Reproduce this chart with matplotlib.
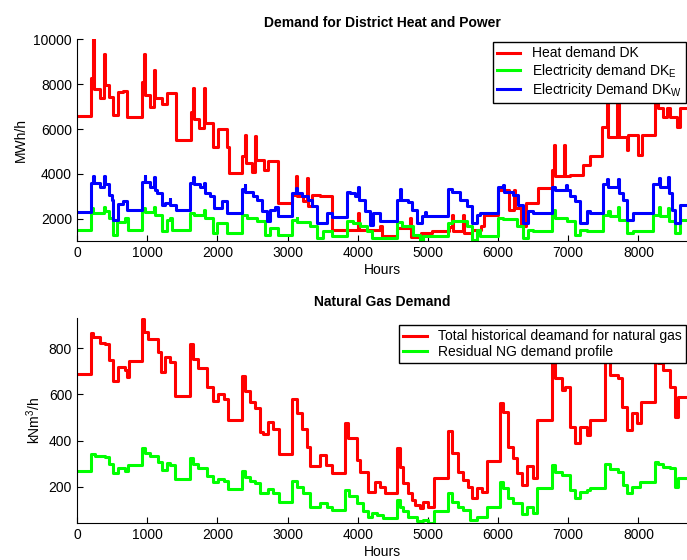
import matplotlib
matplotlib.use("Agg")
import matplotlib.pyplot as plt

plt.rcParams['font.family'] = ['Liberation Sans', 'DejaVu Sans']
plt.rcParams['mathtext.fontset'] = 'custom'
plt.rcParams['mathtext.rm'] = 'Liberation Sans'

END_HOUR = 8760

# Heat demand DK (MWh/h), step profile: hour where a level starts, level
heat_h = [0, 195, 228, 242, 328, 390, 400, 461, 518, 589, 660, 717, 921, 955, 975, 1040,
          1100, 1115, 1207, 1278, 1411, 1620, 1655, 1670, 1743, 1815, 1830, 1943, 2014,
          2133, 2171, 2347, 2390, 2405, 2489, 2542, 2556, 2665, 2726, 2869, 3059, 3125,
          3140, 3225, 3278, 3292, 3344, 3463, 3629, 4005, 4020, 4318, 4350, 4565, 4740,
          4755, 4898, 5064, 5301, 5345, 5360, 5500, 5515, 5634, 5753, 5800, 6004, 6150,
          6225, 6245, 6320, 6400, 6570, 6764, 6795, 6811, 6940, 6955, 7025, 7215, 7310,
          7476, 7548, 7571, 7700, 7728, 7833, 7856, 7999, 8046, 8236, 8284, 8355, 8403,
          8450, 8545, 8593]
heat_v = [6600, 8270, 10000, 7780, 7380, 9330, 7960, 7440, 6620, 7660, 7700, 6550, 8100,
          9330, 7510, 7000, 8620, 7380, 7110, 7590, 5510, 6770, 7820, 6440, 6040, 7820,
          6270, 5220, 6000, 5190, 4050, 4800, 5740, 4490, 4110, 5670, 4630, 4180, 4560,
          2720, 3070, 3890, 3000, 2780, 3800, 2560, 3070, 3000, 1520, 2270, 1500, 1670,
          1220, 1600, 2050, 1180, 1390, 1450, 1650, 2190, 1450, 2190, 1390, 1520, 1670,
          2190, 3290, 2400, 3290, 2490, 1700, 2700, 3370, 4180, 5290, 3890, 5290, 3890,
          3960, 4400, 4780, 6110, 8000, 5660, 8000, 5660, 5070, 5730, 4850, 5730, 7800,
          6940, 6550, 6940, 6550, 6110, 6940]

# Electricity demand DK_E (MWh/h)
elE_h = [0, 195, 209, 223, 390, 400, 461, 518, 565, 684, 731, 921, 955, 969, 1097, 1111,
         1207, 1278, 1325, 1349, 1610, 1667, 1815, 1830, 1943, 1990, 2133, 2347, 2418,
         2560, 2679, 2750, 2869, 3059, 3130, 3140, 3320, 3415, 3510, 3629, 3843, 3938,
         4033, 4128, 4199, 4565, 4626, 4793, 4888, 4935, 5291, 5339, 5553, 5624, 5695,
         5743, 6004, 6075, 6265, 6360, 6431, 6503, 6764, 6790, 6811, 6978, 7096, 7168,
         7263, 7500, 7571, 7590, 7714, 7730, 7833, 7928, 8213, 8298, 8310, 8426, 8440,
         8521, 8593]
elE_v = [1520, 2260, 2490, 2260, 2530, 2330, 2040, 1300, 1850, 2040, 1520, 2330, 2490,
         2290, 2550, 2180, 1450, 1960, 2040, 1520, 2260, 2180, 2400, 2040, 1370, 1820,
         1370, 2180, 2040, 1890, 1300, 1600, 1300, 1960, 2040, 1850, 1670, 1150, 1450,
         1220, 1890, 1820, 1670, 1450, 1150, 1840, 1670, 1300, 900, 1220, 1820, 1890,
         1670, 1080, 1520, 1220, 2040, 2000, 1670, 1150, 1520, 1450, 2260, 2400, 2040,
         1890, 1300, 1520, 1450, 2180, 2350, 2110, 2550, 1960, 1370, 1450, 2180, 2550,
         2150, 2500, 1920, 1370, 1960]

# Electricity demand DK_W (MWh/h)
elW_h = [0, 195, 228, 242, 328, 390, 400, 461, 494, 518, 589, 651, 717, 921, 965, 975,
         1040, 1095, 1111, 1145, 1207, 1254, 1320, 1330, 1411, 1610, 1660, 1670, 1753,
         1815, 1824, 1895, 1952, 2061, 2133, 2347, 2390, 2400, 2513, 2560, 2632, 2703,
         2750, 2822, 2869, 3059, 3125, 3140, 3202, 3296, 3344, 3415, 3558, 3629, 3843,
         3890, 3961, 4005, 4020, 4104, 4175, 4223, 4318, 4555, 4600, 4615, 4721, 4769,
         4840, 4911, 4959, 4975, 5291, 5339, 5458, 5553, 5624, 5695, 5743, 6004, 6075,
         6090, 6218, 6289, 6360, 6431, 6503, 6764, 6811, 6968, 6985, 7025, 7096, 7168,
         7263, 7310, 7500, 7548, 7571, 7714, 7730, 7785, 7833, 7928, 8213, 8298, 8310,
         8426, 8440, 8474, 8521, 8593]
elW_v = [2290, 3620, 3890, 3620, 3440, 3890, 3560, 3070, 2850, 1960, 2670, 2800, 2410,
         3640, 3890, 3640, 3440, 3850, 3290, 3140, 2630, 2730, 2900, 2630, 2410, 3620,
         3850, 3560, 3440, 3600, 3140, 3040, 2490, 2780, 2260, 3330, 3510, 3210, 3000,
         2850, 2340, 1890, 2410, 2550, 2110, 3140, 3360, 3140, 3040, 2850, 2560, 1820,
         2260, 2080, 3210, 3140, 3000, 3440, 2850, 2340, 1740, 2260, 1900, 2850, 3330,
         2850, 2750, 2400, 1820, 2110, 2300, 2110, 3330, 3210, 2850, 2560, 1820, 2180,
         2260, 3440, 3510, 3210, 3070, 2630, 1820, 2340, 2260, 3420, 3290, 3500, 3290,
         3000, 2800, 1820, 2340, 2260, 3560, 3760, 3440, 3760, 3140, 2850, 1960, 2260,
         3560, 3800, 3400, 3850, 3140, 2410, 1820, 2630]

# Total historical demand for natural gas (kNm3/h)
gas_h = [0, 195, 233, 328, 399, 461, 518, 589, 684, 717, 741, 921, 955, 1016, 1159, 1192,
         1254, 1325, 1396, 1610, 1648, 1729, 1848, 1943, 2014, 2095, 2157, 2347, 2394,
         2465, 2537, 2608, 2655, 2726, 2798, 2883, 3059, 3130, 3211, 3282, 3320, 3463,
         3548, 3629, 3819, 3867, 3985, 4033, 4152, 4246, 4318, 4389, 4555, 4603, 4650,
         4721, 4769, 4816, 4888, 4935, 5006, 5087, 5291, 5339, 5434, 5505, 5576, 5624,
         5695, 5766, 5838, 6028, 6075, 6146, 6218, 6265, 6336, 6408, 6503, 6560, 6764,
         6811, 6906, 6954, 7025, 7096, 7168, 7263, 7310, 7524, 7595, 7714, 7761, 7833,
         7904, 7975, 8032, 8236, 8284, 8355, 8450, 8521, 8569]
gas_v = [686, 866, 846, 823, 818, 748, 657, 719, 705, 676, 745, 928, 871, 838, 784, 698,
         762, 738, 593, 817, 755, 712, 633, 572, 600, 580, 489, 679, 614, 568, 542, 438,
         427, 482, 449, 342, 578, 518, 449, 374, 292, 336, 295, 259, 475, 410, 316, 266,
         179, 222, 201, 172, 369, 287, 216, 172, 143, 122, 107, 136, 114, 237, 441, 348,
         266, 230, 201, 151, 194, 179, 312, 561, 525, 374, 323, 259, 208, 290, 237, 489,
         780, 669, 619, 630, 460, 391, 460, 424, 489, 790, 683, 669, 546, 446, 518, 475,
         568, 800, 734, 705, 633, 503, 590]

# Residual NG demand profile (kNm3/h)
res_h = [0, 195, 257, 399, 461, 518, 589, 684, 731, 921, 969, 1040, 1159, 1207, 1278, 1325,
         1396, 1610, 1658, 1729, 1848, 1943, 2014, 2095, 2157, 2347, 2394, 2465, 2537,
         2608, 2726, 2798, 2883, 3059, 3130, 3225, 3320, 3463, 3558, 3629, 3819, 3881,
         3985, 4080, 4152, 4199, 4270, 4365, 4555, 4603, 4650, 4721, 4840, 4935, 5006,
         5087, 5291, 5339, 5434, 5505, 5600, 5695, 5838, 6028, 6075, 6146, 6218, 6336,
         6408, 6503, 6560, 6764, 6811, 6906, 7025, 7096, 7168, 7263, 7310, 7524, 7595,
         7714, 7785, 7833, 7904, 8023, 8236, 8284, 8355, 8450, 8521, 8569]
res_v = [270, 342, 334, 329, 299, 259, 283, 270, 295, 369, 345, 333, 309, 273, 302, 295,
         233, 323, 299, 280, 247, 221, 233, 223, 190, 269, 244, 223, 217, 172, 190, 175,
         133, 227, 201, 175, 114, 131, 114, 100, 187, 162, 129, 93, 69, 86, 79, 64, 143,
         114, 93, 71, 50, 57, 43, 93, 175, 136, 114, 100, 57, 71, 114, 222, 194, 151,
         129, 83, 114, 88, 194, 295, 266, 251, 187, 151, 179, 185, 194, 299, 276, 266,
         208, 175, 201, 222, 309, 299, 287, 280, 201, 237]


def ext(h, v):
    # carry the last level to the end of the year
    return list(h) + [END_HOUR], list(v) + [v[-1]]


def style(ax):
    ax.spines['top'].set_visible(False)
    ax.spines['right'].set_visible(False)
    ax.tick_params(direction='in', length=4, labelsize=10)
    ax.set_xlim(0, 8692)
    ax.set_xticks(range(0, 9000, 1000))
    ax.set_xlabel('Hours', fontsize=10, labelpad=2)


def add_legend(ax, anchor):
    leg = ax.legend(loc='upper right', bbox_to_anchor=anchor, fontsize=10, frameon=True,
                    fancybox=False, edgecolor='black', framealpha=1, handlelength=1.7,
                    borderpad=0.3, labelspacing=0.1, borderaxespad=0)
    leg.get_frame().set_linewidth(1.0)


fig = plt.figure(figsize=(6.87, 5.6), dpi=100)

ax1 = fig.add_axes([0.112, 0.569, 0.888, 0.361])
for h, v, c, lab in [(heat_h, heat_v, '#ff0000', 'Heat demand DK'),
                     (elE_h, elE_v, '#00ff00', r'Electricity demand DK$_\mathrm{E}$'),
                     (elW_h, elW_v, '#0000ff', r'Electricity Demand DK$_\mathrm{W}$')]:
    x, y = ext(h, v)
    ax1.step(x, y, where='post', color=c, lw=2.2, label=lab)
style(ax1)
ax1.set_ylim(1000, 10000)
ax1.set_yticks([2000, 4000, 6000, 8000, 10000])
ax1.set_ylabel('MWh/h', fontsize=10)
ax1.set_title('Demand for District Heat and Power', fontsize=10, fontweight='bold', pad=9)
add_legend(ax1, (0.998, 0.985))

ax2 = fig.add_axes([0.112, 0.066, 0.888, 0.366])
for h, v, c, lab in [(gas_h, gas_v, '#ff0000', 'Total historical deamand for natural gas'),
                     (res_h, res_v, '#00ff00', 'Residual NG demand profile')]:
    x, y = ext(h, v)
    ax2.step(x, y, where='post', color=c, lw=2.2, label=lab)
style(ax2)
ax2.set_ylim(43, 930)
ax2.set_yticks([200, 400, 600, 800])
ax2.set_ylabel(r'kNm$^3$/h', fontsize=10)
ax2.set_title('Natural Gas Demand', fontsize=10, fontweight='bold', pad=9)
add_legend(ax2, (0.998, 0.965))

fig.savefig('out.png', dpi=100)
